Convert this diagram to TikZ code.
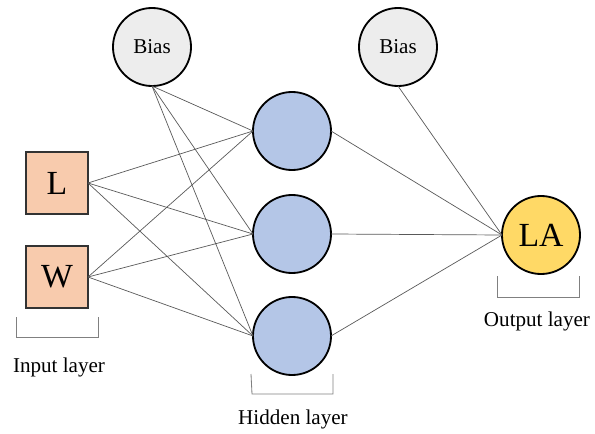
\documentclass[tikz,border=0pt]{standalone}
\usepackage{fontspec}
\setmainfont{Liberation Serif}
\usepackage{tikz}

\definecolor{biasgray}{HTML}{EDEDED}
\definecolor{hidblue}{HTML}{B4C6E7}
\definecolor{outgold}{HTML}{FFD966}
\definecolor{inpeach}{HTML}{F8CBAD}

\begin{document}
\begin{tikzpicture}[x=0.025cm, y=-0.025cm,
  every node/.style={outer sep=0pt, inner sep=0pt},
  neuron/.style={circle, draw=black, line width=1.3pt, minimum size=1.95cm},
  inbox/.style={rectangle, draw=black!80, line width=0.8pt, fill=inpeach, minimum size=1.55cm, font=\fontsize{24}{28}\selectfont},
  link/.style={draw=black!65, line width=0.5pt},
  bracket/.style={draw=black!50, line width=0.6pt},
  lbl/.style={font=\fontsize{15}{18}\selectfont}]
\useasboundingbox (0,0) rectangle (595,434);

% neurons and inputs
\node[neuron, fill=biasgray, font=\fontsize{15}{18}\selectfont] (bias1) at (152,47) {Bias};
\node[neuron, fill=biasgray, font=\fontsize{15}{18}\selectfont] (bias2) at (398,47) {Bias};
\node[inbox] (inL) at (57,183) {L};
\node[inbox] (inW) at (57,277) {W};
\node[neuron, fill=hidblue] (h1) at (292,131) {};
\node[neuron, fill=hidblue] (h2) at (292,234) {};
\node[neuron, fill=hidblue] (h3) at (292,336) {};
\node[neuron, fill=outgold, font=\fontsize{24}{28}\selectfont] (out) at (541,235) {LA};

% links end on the node borders
\foreach \h in {h1,h2,h3} {
  \draw[link] (inL.east) -- (\h.west);
  \draw[link] (inW.east) -- (\h.west);
  \draw[link] (bias1.south) -- (\h.west);
  \draw[link] (\h.east) -- (out.west);
}
\draw[link] (bias2.south) -- (out.west);

% layer brackets
\draw[bracket] (16,317) -- (16,337) -- (98,337) -- (98,317);
\draw[bracket] (251,374) -- (252,394) -- (333,394) -- (333,374);
\draw[bracket] (497,276) -- (497,297) -- (579,297) -- (579,276);

\node[lbl] (inlbl) at (59,367) {Input layer};
\node[lbl] (hidlbl) at (293,419) {Hidden layer};
\node[lbl] (outlbl) at (537,321) {Output layer};
\end{tikzpicture}
\end{document}
